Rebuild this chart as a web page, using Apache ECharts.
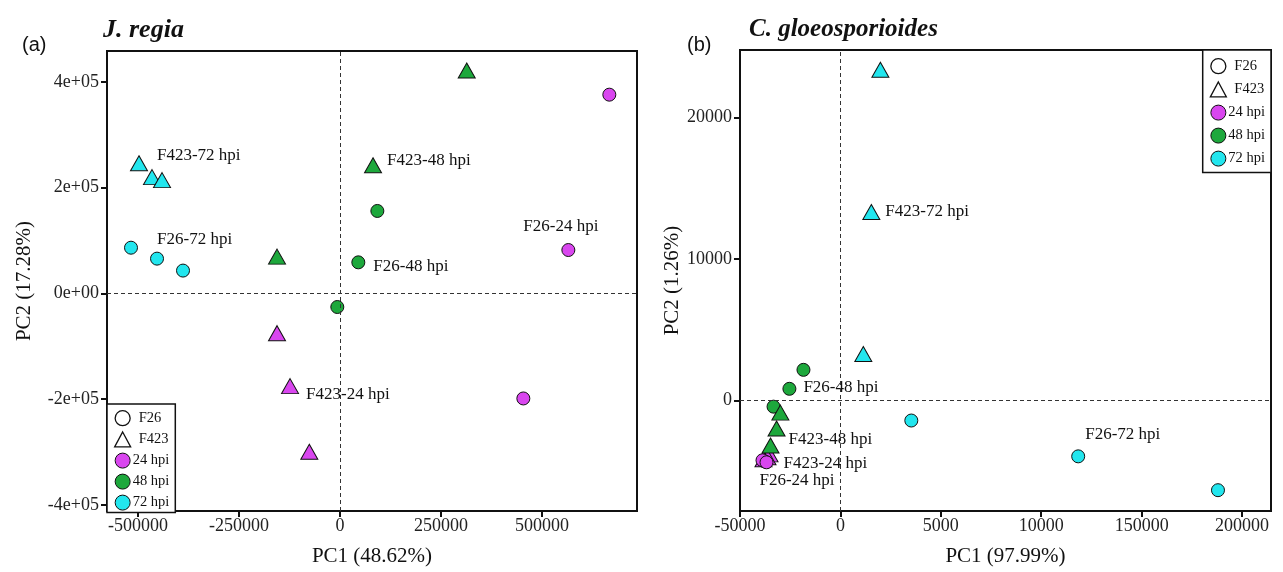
<!DOCTYPE html>
<html>
<head>
<meta charset="utf-8">
<script src="https://cdn.jsdelivr.net/npm/echarts@6/dist/echarts.min.js"></script>
<style>
html,body{margin:0;padding:0;background:#fff;}
#chart{width:1283px;height:572px;}
</style>
</head>
<body>
<div id="chart"></div>
<script>
// ---------- DATA ----------
const strains = ['F26', 'F423'];
const times = ['24 hpi', '48 hpi', '72 hpi'];

// Panel (a) J. regia  [PC1, PC2]
const a_F26_24  = [[666500, 376000], [565100, 82100], [453700, -198700]];
const a_F26_48  = [[92400, 156000], [45300, 58800], [-6700, -25700]];
const a_F26_72  = [[-517300, 86500], [-452900, 65800], [-388600, 43200]];
const a_F423_24 = [[-155900, -75200], [-123700, -175400], [-76000, -299500]];
const a_F423_48 = [[313600, 421700], [81700, 242500], [-155900, 69600]];
const a_F423_72 = [[-497500, 246300], [-465300, 220000], [-440500, 214300]];

// Panel (b) C. gloeosporioides  [PC1, PC2]
const b_F26_24  = [[-37800, -4280], [-38800, -4210], [-36800, -4350]];
const b_F26_48  = [[-18400, 2180], [-25400, 840], [-33300, -420]];
const b_F26_72  = [[35300, -1400], [118400, -3930], [188000, -6320]];
const b_F423_24 = [[-35300, -3790], [-36300, -4000], [-38300, -4140]];
const b_F423_48 = [[-29900, -840], [-31800, -1960], [-34800, -3160]];
const b_F423_72 = [[19900, 23370], [15400, 13330], [11400, 3300]];

// Tick values and labels
const xTicksA = [-500000, -250000, 0, 250000, 500000];
const xTickLabelsA = ['-500000', '-250000', '0', '250000', '500000'];
const yTicksA = [-400000, -200000, 0, 200000, 400000];
const yTickLabelsA = ['-4e+05', '-2e+05', '0e+00', '2e+05', '4e+05'];
const xTicksB = [-50000, 0, 50000, 100000, 150000, 200000];
const xTickLabelsB = ['-50000', '0', '5000', '10000', '150000', '200000'];
const yTicksB = [0, 10000, 20000];
const yTickLabelsB = ['0', '10000', '20000'];

const axisNames = {
  ax: 'PC1 (48.62%)', ay: 'PC2 (17.28%)',
  bx: 'PC1 (97.99%)', by: 'PC2 (1.26%)'
};
const panelTitles = ['J. regia', 'C. gloeosporioides'];
const panelTags = ['(a)', '(b)'];

// ---------- STYLE ----------
const SERIF = '"Liberation Serif", "Times New Roman", serif';
const colors = { '24 hpi': '#D946EF', '48 hpi': '#1DA83C', '72 hpi': '#22E6EE' };
const symbols = { 'F26': 'circle', 'F423': 'triangle' };
const symSize = { 'F26': 13, 'F423': [17, 15] };

// label placement: [pointIndex, offset]
const labelsA = {
  'F423-72': [0, [18, -8]],
  'F26-72':  [1, [0, -19]],
  'F423-48': [1, [14, -5]],
  'F26-48':  [1, [15, 4]],
  'F26-24':  [1, [-45, -23]],
  'F423-24': [1, [16, 8]]
};
const labelsB = {
  'F423-72': [1, [14, 0]],
  'F26-48':  [1, [14, -1]],
  'F423-48': [1, [12, 11]],
  'F423-24': [1, [16, 6]],
  'F26-24':  [0, [-5, 19]],
  'F26-72':  [1, [7, -22]]
};

const panelData = [
  { 'F26-24': a_F26_24, 'F26-48': a_F26_48, 'F26-72': a_F26_72,
    'F423-24': a_F423_24, 'F423-48': a_F423_48, 'F423-72': a_F423_72 },
  { 'F26-24': b_F26_24, 'F26-48': b_F26_48, 'F26-72': b_F26_72,
    'F423-24': b_F423_24, 'F423-48': b_F423_48, 'F423-72': b_F423_72 }
];
const drawOrder = [['F26','72 hpi'], ['F26','48 hpi'], ['F423','24 hpi'], ['F423','48 hpi'], ['F423','72 hpi'], ['F26','24 hpi']];

function makeFormatter(ticks, labels) {
  return function (v) {
    const i = ticks.findIndex(t => Math.abs(t - v) < 1e-6);
    return i >= 0 ? labels[i] : '';
  };
}

const series = [];
[0, 1].forEach(function (p) {
  const lab = p === 0 ? labelsA : labelsB;
  // zero reference lines
  series.push({
    type: 'scatter', xAxisIndex: p, yAxisIndex: p, data: [], z: 1, silent: true,
    markLine: {
      silent: true, symbol: ['none', 'none'], animation: false,
      label: { show: false },
      lineStyle: { color: '#333', width: 1, type: [4, 3] },
      data: [{ xAxis: 0 }, { yAxis: 0 }]
    }
  });
  drawOrder.forEach(function (pair) {
    const strain = pair[0], time = pair[1];
    const key = strain + '-' + time.split(' ')[0];
    const pts = panelData[p][key];
    const data = pts.map(function (pt, i) {
      const item = { value: pt };
      const L = lab[key];
      if (L && L[0] === i) {
        item.label = {
          show: true, formatter: strain + '-' + time, position: 'inside',
          align: 'left', verticalAlign: 'middle', offset: L[1],
          fontFamily: SERIF, fontSize: 17, color: '#111'
        };
      }
      return item;
    });
    series.push({
      name: 'p' + p + ' ' + key, type: 'scatter', xAxisIndex: p, yAxisIndex: p, z: 3,
      symbol: symbols[strain], symbolSize: symSize[strain], data: data,
      itemStyle: { color: colors[time], borderColor: '#111', borderWidth: 1, opacity: 1 },
      label: { show: false }, emphasis: { disabled: true }, animation: false
    });
  });
});

// legend dummy series
const legendNames = strains.concat(times);
function legendStyle(n) {
  const isStrain = strains.indexOf(n) >= 0;
  return isStrain ? { color: '#fff', borderColor: '#111', borderWidth: 1.3, opacity: 1 }
                  : { color: colors[n], borderColor: '#111', borderWidth: 1, opacity: 1 };
}
legendNames.forEach(function (n) {
  const isStrain = strains.indexOf(n) >= 0;
  series.push({
    name: n, type: 'scatter', xAxisIndex: 0, yAxisIndex: 0, data: [],
    symbol: isStrain ? symbols[n] : 'circle',
    itemStyle: legendStyle(n)
  });
});

function legendData() {
  return legendNames.map(function (n) {
    const isStrain = strains.indexOf(n) >= 0;
    return {
      name: n,
      icon: isStrain ? (n === 'F26' ? 'circle' : 'triangle') : 'circle',
      itemStyle: legendStyle(n),
      textStyle: { padding: isStrain ? [0, 0, 0, 3] : [0, 0, 0, -3] }
    };
  });
}
const legendCommon = {
  orient: 'vertical', itemGap: 5, itemWidth: 16, itemHeight: 15,
  selectedMode: false, borderColor: '#111', borderWidth: 1.5, borderRadius: 0,
  backgroundColor: '#fff', padding: [6, 6, 2, 7],
  textStyle: { fontFamily: SERIF, fontSize: 14.5, color: '#111' },
  data: legendData()
};

function xAxisCfg(gi, name, min, max, ticks, labels) {
  return {
    type: 'value', gridIndex: gi, min: min, max: max, name: name,
    nameLocation: 'middle', nameGap: 35,
    nameTextStyle: { fontFamily: SERIF, fontSize: 21, color: '#111' },
    axisLine: { show: true, onZero: false, lineStyle: { color: '#111', width: 2 } },
    axisTick: { show: true, length: 6, customValues: ticks, lineStyle: { color: '#111', width: 2 } },
    axisLabel: { customValues: ticks, formatter: makeFormatter(ticks, labels),
      fontFamily: SERIF, fontSize: 18, color: '#222', margin: 6 },
    splitLine: { show: false }
  };
}
function yAxisCfg(gi, name, min, max, ticks, labels, gap) {
  return {
    type: 'value', gridIndex: gi, min: min, max: max, name: name,
    nameLocation: 'middle', nameGap: gap, nameRotate: 90,
    nameTextStyle: { fontFamily: SERIF, fontSize: 21, color: '#111' },
    axisLine: { show: true, onZero: false, lineStyle: { color: '#111', width: 2 } },
    axisTick: { show: true, length: 6, customValues: ticks, lineStyle: { color: '#111', width: 2 } },
    axisLabel: { customValues: ticks, formatter: makeFormatter(ticks, labels),
      fontFamily: SERIF, fontSize: 18, color: '#222', margin: 8 },
    splitLine: { show: false }
  };
}

const option = {
  backgroundColor: '#fff',
  animation: false,
  title: [
    { text: panelTags[0], left: 17, top: 30, textStyle: { fontFamily: '"Liberation Sans", Arial, sans-serif', fontSize: 20, fontWeight: 'normal', color: '#111' } },
    { text: panelTitles[0], left: 98, top: 12, textStyle: { fontFamily: SERIF, fontSize: 26, fontWeight: 'bold', fontStyle: 'italic', color: '#111' } },
    { text: panelTags[1], left: 682, top: 30, textStyle: { fontFamily: '"Liberation Sans", Arial, sans-serif', fontSize: 20, fontWeight: 'normal', color: '#111' } },
    { text: panelTitles[1], left: 744, top: 12, textStyle: { fontFamily: SERIF, fontSize: 25, fontWeight: 'bold', fontStyle: 'italic', color: '#111' } }
  ],
  grid: [
    { left: 107, right: 646, top: 51, bottom: 58, show: true, borderColor: '#111', borderWidth: 2, backgroundColor: 'transparent' },
    { left: 740, right: 12, top: 50, bottom: 58, show: true, borderColor: '#111', borderWidth: 2, backgroundColor: 'transparent' }
  ],
  xAxis: [
    xAxisCfg(0, axisNames.ax, -576700, 735000, xTicksA, xTickLabelsA),
    xAxisCfg(1, axisNames.bx, -50000, 214400, xTicksB, xTickLabelsB)
  ],
  yAxis: [
    yAxisCfg(0, axisNames.ay, -411600, 458600, yTicksA, yTickLabelsA, 72),
    yAxisCfg(1, axisNames.by, -7790, 24770, yTicksB, yTickLabelsB, 49)
  ],
  legend: [
    Object.assign({}, legendCommon, { left: 107, top: 404 }),
    Object.assign({}, legendCommon, { right: 12, top: 50, itemGap: 7, padding: [8, 6, 6, 7] })
  ],
  series: series
};

const chart = echarts.init(document.getElementById('chart'), null, { renderer: 'canvas' });
chart.setOption(option);
</script>
</body>
</html>
